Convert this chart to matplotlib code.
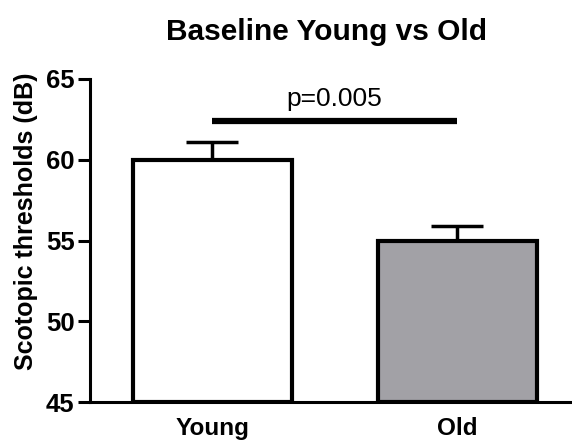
import matplotlib.pyplot as plt

plt.rcParams["font.family"] = ["Liberation Sans", "DejaVu Sans"]

groups = ["Young", "Old"]
means = [60.0, 55.0]
errors = [1.1, 0.9]
colors = ["white", "#a2a1a6"]
p_text = "p=0.005"
sig_y = 62.4
y_ticks = [45, 50, 55, 60, 65]

fig = plt.figure(figsize=(5.72, 4.41), dpi=100)
ax = fig.add_axes([0.157, 0.088, 0.843, 0.733])

x = list(range(len(groups)))
ax.bar(x, [m - 45 for m in means], bottom=45, width=0.65,
       color=colors, edgecolor="black", linewidth=3, zorder=2)
# upper error bars only
ax.errorbar(x, means, yerr=[[0, 0], errors], fmt="none", ecolor="black",
            elinewidth=2.5, capsize=19, capthick=2.5, zorder=1)

# significance line
ax.plot([x[0], x[1]], [sig_y, sig_y], color="black", linewidth=4.5,
        solid_capstyle="butt", clip_on=False)
ax.text(0.5, sig_y + 0.6, p_text, ha="center", va="bottom", fontsize=19)

ax.set_xlim(-0.501, 1.47)
ax.set_ylim(45, 65)
ax.set_yticks(y_ticks)
ax.set_xticks(x)
ax.set_xticklabels(groups, fontsize=17.5, fontweight="bold")
ax.tick_params(axis="y", labelsize=18.5, width=2.2, length=9, pad=2)
for lab in ax.get_yticklabels():
    lab.set_fontweight("bold")
ax.tick_params(axis="x", length=0, pad=11)
ax.set_ylabel("Scotopic thresholds (dB)", fontsize=18, fontweight="bold")
ax.yaxis.set_label_coords(-0.108, 0.56)

ax.spines["top"].set_visible(False)
ax.spines["right"].set_visible(False)
ax.spines["left"].set_linewidth(2.2)
ax.spines["bottom"].set_linewidth(2.2)

fig.suptitle("Baseline Young vs Old", x=0.57, y=0.96, fontsize=21.5,
             fontweight="bold")

fig.savefig("out.png", dpi=100)
